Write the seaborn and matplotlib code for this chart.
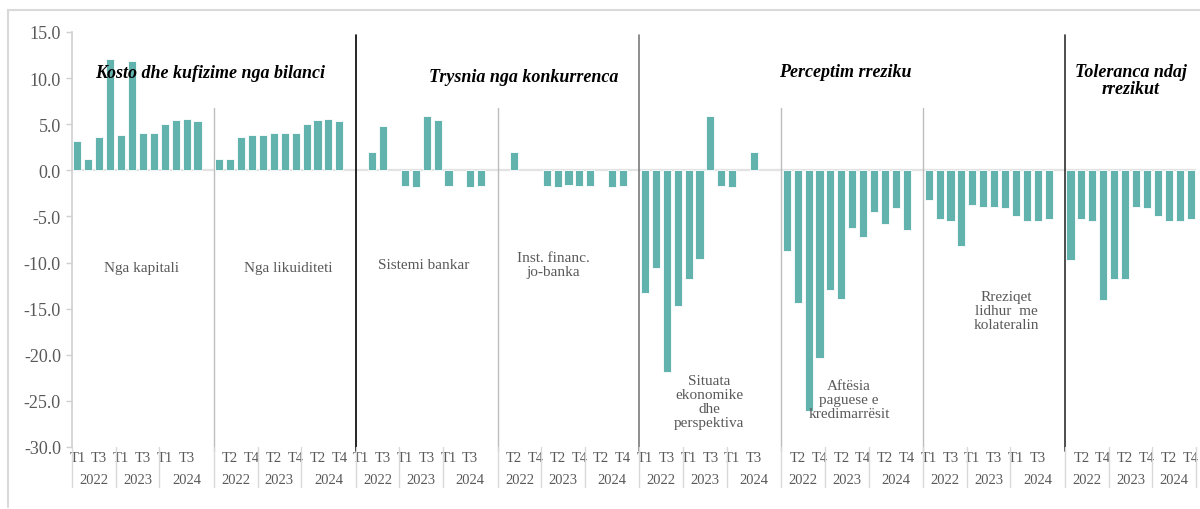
import numpy as np
import pandas as pd
import matplotlib.pyplot as plt
import seaborn as sns
from matplotlib.lines import Line2D
import matplotlib.transforms as mtransforms

# values (percent), 12 quarters per block: T1 2022 ... T4 2024
quarters = ["T1", "T2", "T3", "T4"]
years = ["2022", "2023", "2024"]

kapitali = [3.2, 1.2, 3.6, 12.1, 3.8, 11.9, 4.0, 4.1, 5.0, 5.5, 5.6, 5.3]
likuiditeti = [1.2, 1.2, 3.6, 3.8, 3.8, 4.0, 4.0, 4.1, 5.0, 5.5, 5.6, 5.3]
sistemi_bankar = [np.nan, 2.0, 4.8, np.nan, -1.7, -1.8, 5.9, 5.5, -1.7, np.nan, -1.8, -1.7]
jo_banka = [np.nan, 2.0, np.nan, np.nan, -1.7, -1.8, -1.6, -1.7, -1.7, np.nan, -1.8, -1.7]
situata = [-13.3, -10.6, -21.9, -14.7, -11.8, -9.6, 5.9, -1.7, -1.8, np.nan, 2.0, np.nan]
aftesia = [-8.8, -14.4, -26.1, -20.3, -13.0, -14.0, -6.3, -7.2, -4.5, -5.8, -4.1, -6.5]
kolaterali = [-3.2, -5.3, -5.5, -8.2, -3.8, -4.0, -4.0, -4.1, -4.9, -5.5, -5.5, -5.3]
toleranca = [-9.7, -5.3, -5.5, -14.1, -11.8, -11.8, -4.0, -4.1, -4.9, -5.5, -5.5, -5.3]

blocks = [kapitali, likuiditeti, sistemi_bankar, jo_banka,
          situata, aftesia, kolaterali, toleranca]

sub_labels = ["Nga kapitali", "Nga likuiditeti", "Sistemi bankar", "Inst. financ.\njo-banka",
              "Situata\nekonomike\ndhe\nperspektiva", "Aftësia\npaguese e\nkredimarrësit",
              "Rreziqet\nlidhur  me\nkolateralin", ""]
headings = ["Kosto dhe kufizime nga bilanci", "Trysnia nga konkurrenca",
            "Perceptim rreziku", "Toleranca ndaj\nrrezikut"]

# each block = 12 quarters + 1 empty slot (Excel-style gap), last block without gap
n_slots = 13 * len(blocks) - 1
rows = []
for g, vals in enumerate(blocks):
    for q, v in enumerate(vals):
        rows.append({"slot": 13 * g + q, "value": v})
df = pd.DataFrame(rows).dropna()

sns.set_theme(style="white")
plt.rcParams['font.family'] = ['Liberation Serif', 'DejaVu Serif']

fig = plt.figure(figsize=(12, 5.1), dpi=100)
ax = fig.add_axes([72 / 1200, 1 - 448 / 510, 1124 / 1200, 415 / 510])

ax.axhline(0, color="#e3e3e3", lw=1.6, zorder=0)

sns.barplot(data=df, x="slot", y="value", order=list(range(n_slots)),
            color="#62b2ae", saturation=1, width=0.74,
            edgecolor="white", linewidth=0.6, ax=ax, zorder=2)

ax.set_xlim(-0.5, n_slots - 0.5)
ax.set_ylim(-30, 15)
ax.set_xlabel("")
ax.set_ylabel("")

# y axis
yt = np.arange(15, -31, -5)
ax.set_yticks(yt)
ax.set_yticklabels([f"{v:.1f}" for v in yt], color="#595959", fontsize=13)
ax.tick_params(axis="y", length=4, width=1, color="#d0d0d0", left=True, pad=4)
for s in ["top", "right", "bottom"]:
    ax.spines[s].set_visible(False)
ax.spines["left"].set_color("#d0d0d0")
ax.spines["left"].set_linewidth(1.2)

# x tick labels: Excel skips every second label
xlabels = []
for i in range(n_slots):
    q = i % 13
    xlabels.append(quarters[q % 4] if (q < 12 and i % 2 == 0) else "")
ax.set_xticks(range(n_slots))
ax.set_xticklabels(xlabels, color="#595959", fontsize=10.5, rotation=0)
ax.tick_params(axis="x", length=0, pad=3)

trans = mtransforms.blended_transform_factory(ax.transData, ax.transAxes)

# year labels and separators under the axis
sep_x = []
for g in range(len(blocks)):
    s = 13 * g
    last = s + 12.5 if g < len(blocks) - 1 else n_slots - 0.5
    sep_x += [s - 0.5, s + 3.5, s + 7.5]
    centers = [s + 1.5, s + 5.5, (s + 7.5 + last) / 2]
    for c, yr in zip(centers, years):
        ax.text(c, -0.078, yr, transform=trans, ha="center", va="center",
                fontsize=10.5, color="#595959")
sep_x.append(n_slots - 0.5)
for x in sep_x:
    ax.add_line(Line2D([x, x], [0, -0.097], transform=trans, color="#d9d9d9",
                       lw=1, clip_on=False))

# block separators inside the plot
minor_sep = [12.5, 38.5, 64.5, 77.5]
for x in minor_sep:
    ax.plot([x, x], [-30.4, 6.8], color="#bdbdbd", lw=1, zorder=1, clip_on=False)
major_sep = [(25.5, "#000000"), (51.5, "#7a7a7a"), (90.5, "#303030")]
for x, c in major_sep:
    ax.plot([x, x], [-30.4, 14.7], color=c, lw=1.2, zorder=1, clip_on=False)

# sub-category labels
sub_pos = [(5.9, -10.5), (19.3, -10.5), (31.7, -10.2), (43.6, -10.2),
           (57.9, -25.1), (70.7, -24.8), (85.1, -15.25)]
for (x, y), t in zip(sub_pos, sub_labels):
    ax.text(x, y, t, ha="center", va="center", fontsize=11, color="#595959",
            linespacing=1.1, zorder=3)

# main headings
head_pos = [(12.2, 10.6), (40.9, 10.15), (70.4, 10.7), (96.5, 9.8)]
for (x, y), t in zip(head_pos, headings):
    ax.text(x, y, t, ha="center", va="center", fontsize=13, color="black",
            fontweight="bold", fontstyle="italic", linespacing=1.05, zorder=3)

# chart border (top and left edges visible)
fig.add_artist(Line2D([8 / 1200, 1.0], [1 - 11 / 510, 1 - 11 / 510],
                      transform=fig.transFigure, color="#d9d9d9", lw=1.5))
fig.add_artist(Line2D([8 / 1200, 8 / 1200], [1 - 11 / 510, 2 / 510],
                      transform=fig.transFigure, color="#d9d9d9", lw=1.5))

plt.savefig("out.png", dpi=100)
